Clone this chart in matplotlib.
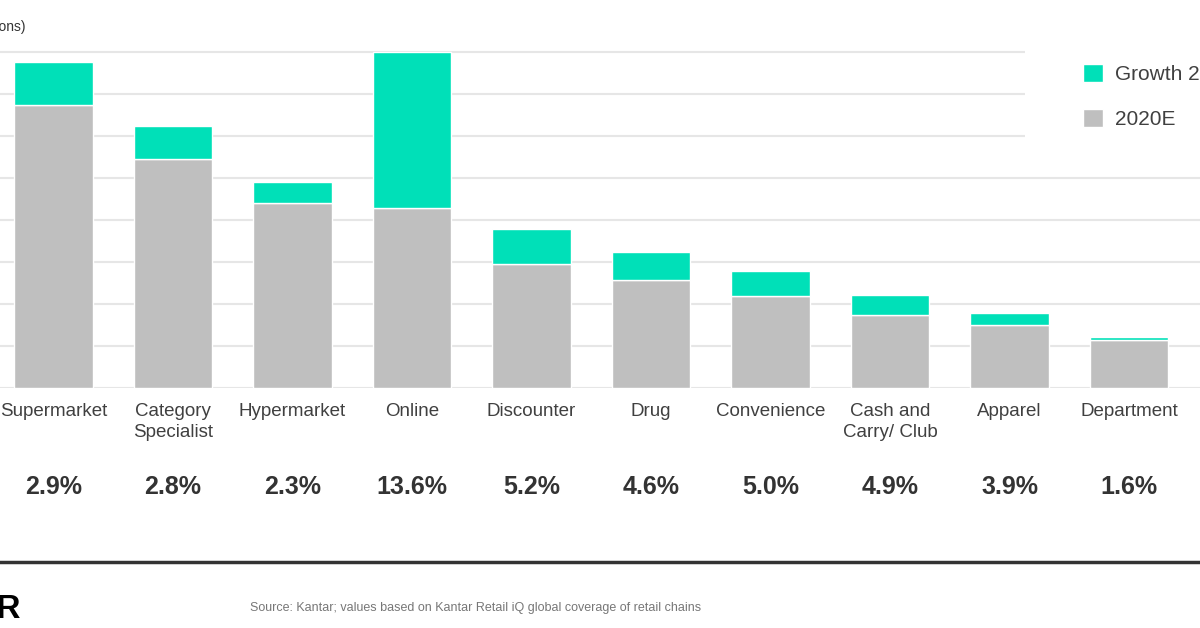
import matplotlib
matplotlib.use("Agg")
import matplotlib.pyplot as plt
import matplotlib.transforms as mtransforms
from matplotlib.lines import Line2D
from matplotlib.patches import Rectangle
import numpy as np

plt.rcParams['font.family'] = ['Liberation Sans', 'DejaVu Sans']

# data (gridlines every 100)
categories = ['Supermarket', 'Category\nSpecialist', 'Hypermarket', 'Online', 'Discounter',
              'Drug', 'Convenience', 'Cash and\nCarry/ Club', 'Apparel', 'Department']
sales_2020 = [674, 545, 440, 429, 295, 257, 219, 174, 150, 114]
growth = [102, 79, 50, 371, 84, 67, 60, 47, 29, 7]
cagr = ['2.9%', '2.8%', '2.3%', '13.6%', '5.2%', '4.6%', '5.0%', '4.9%', '3.9%', '1.6%']

TEAL = '#00E0B8'
GREY = '#BFBFBF'

W, H = 1200, 628
fig = plt.figure(figsize=(12, 6.28), dpi=100)
bottom_px, top_px = 388, 43.6
ax = fig.add_axes([0, 1 - bottom_px / H, 1, (bottom_px - top_px) / H])

x = np.arange(len(categories))
ax.bar(x, sales_2020, width=0.66, color=GREY, edgecolor='white', linewidth=1,
       label='2020E', zorder=3)
ax.bar(x, growth, bottom=sales_2020, width=0.66, color=TEAL, edgecolor='white',
       linewidth=1, label='Growth 2020E-2025F', zorder=3)

ax.set_xlim((0 - 53.5) / 119.5, (W - 53.5) / 119.5)
ax.set_ylim(0, 820)
ax.set_yticks(np.arange(0, 801, 100))
ax.yaxis.grid(True, color='#E6E6E6', linewidth=1.5, zorder=0)
ax.set_axisbelow(True)
ax.tick_params(axis='y', left=False, labelleft=False)
ax.set_xticks(x)
ax.set_xticklabels(categories, fontsize=13.5, color='#404040', linespacing=1.3)
ax.tick_params(axis='x', length=0, pad=11)
for s in ax.spines.values():
    s.set_visible(False)

# white box behind legend covering the gridlines
ax.add_patch(Rectangle((1025 / W, 1 - 160 / H), 200 / W, 120 / H, transform=fig.transFigure,
                       facecolor='white', edgecolor='none', zorder=1))

h, l = ax.get_legend_handles_labels()
ax.legend(h[::-1], l[::-1], loc='upper left', bbox_to_anchor=(1083 / W, 1 - 64 / H),
          bbox_transform=fig.transFigure, frameon=False, borderpad=0, borderaxespad=0,
          fontsize=15, handlelength=0.96, handleheight=0.96, handletextpad=0.58,
          labelspacing=1.2, labelcolor='#404040')

# growth rates row
trans = mtransforms.blended_transform_factory(ax.transData, fig.transFigure)
for xi, c in zip(x, cagr):
    ax.text(xi, 1 - 487 / H, c, transform=trans, ha='center', va='center',
            fontsize=18, fontweight='bold', color='#333333', clip_on=False)

fig.text(25 / W, 1 - 27 / H, 'Sales (US$ billions)', ha='right', va='center',
         fontsize=10, color='#333333')

fig.add_artist(Line2D([0, 1], [1 - 562 / H, 1 - 562 / H], transform=fig.transFigure,
                      color='#333333', linewidth=2.5))
fig.text(21 / W, 1 - 610 / H, 'KANTAR', ha='right', va='center', fontsize=24,
         fontweight='bold', color='black')
fig.text(250 / W, 1 - 608 / H,
         'Source: Kantar; values based on Kantar Retail iQ global coverage of retail chains',
         ha='left', va='center', fontsize=9, color='#777777')

fig.savefig('out.png', dpi=100, facecolor='white')
